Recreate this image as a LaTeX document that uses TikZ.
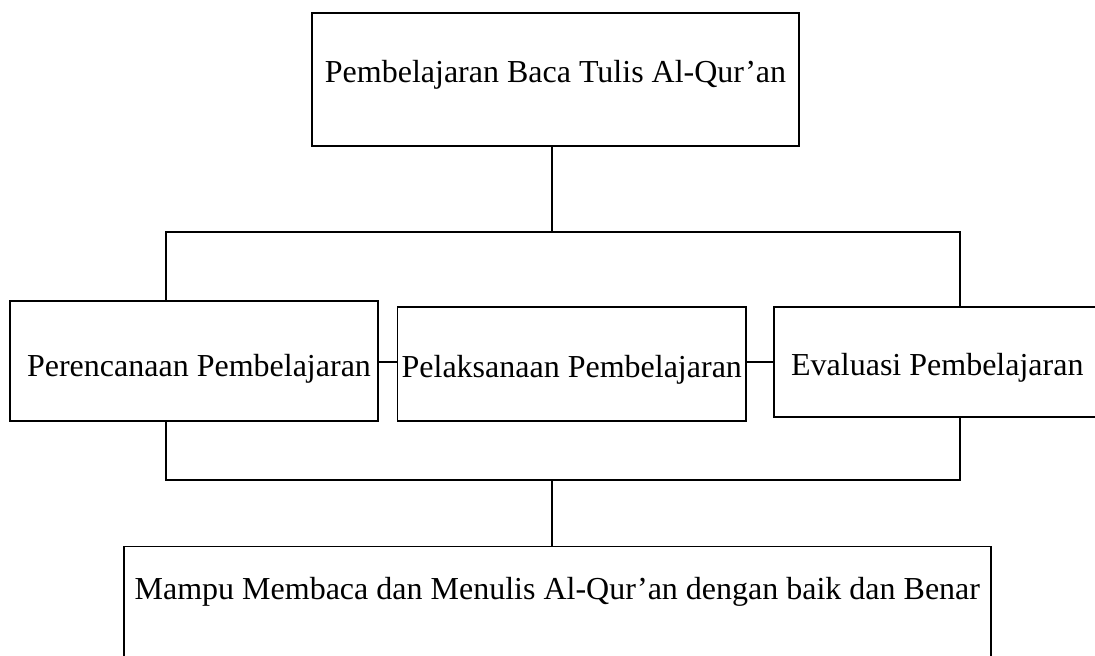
\documentclass[tikz,border=0pt]{standalone}
\usepackage{fontspec}
\setmainfont{Liberation Serif}

\begin{document}
\begin{tikzpicture}[x=0.5pt,y=-0.5pt,line width=0.9pt,
        font=\fontsize{16pt}{19pt}\selectfont,
        box/.style={draw,rectangle,inner sep=0pt}]
            \useasboundingbox (0,0) rectangle (1095,656);
            \node[box,minimum width=243.5pt,minimum height=66.25pt,text height=11.5pt,text depth=8.5pt] (top) at (555.5,79.5) {Pembelajaran Baca Tulis Al-Qur’an};
            \node[box,minimum width=184pt,minimum height=60pt,text height=17pt,text depth=1pt] (plan) at (194,361) {\hspace*{5pt}Perencanaan Pembelajaran};
            \node[box,minimum width=174.25pt,minimum height=57.15pt,text height=15.6pt,text depth=2.4pt] (act) at (571.75,363.85) {Pelaksanaan Pembelajaran};
            \node[box,minimum width=163.7pt,minimum height=55pt,text height=16.3pt,text depth=2pt] (eval) at (937.3,361.7) {Evaluasi Pembelajaran};
            \node[box,anchor=north,minimum width=433.35pt,minimum height=75pt,text height=5pt,text depth=26.5pt] (goal) at (557.35,545.5) {Mampu Membaca dan Menulis Al-Qur’an dengan baik dan Benar};
            \coordinate (upfork) at (552,232);
            \coordinate (upleft) at (166,232);
            \coordinate (upright) at (960,232);
            \coordinate (midrow) at (552,362);
            \coordinate (downfork) at (552,480);
            \coordinate (downleft) at (166,480);
            \coordinate (downright) at (960,480);
            \draw (upfork |- top.south) -- (upfork);
            \draw (upleft |- plan.north) -- (upleft) -- (upright) -- (upright |- eval.north);
            \draw (plan.east |- midrow) -- (act.west |- midrow);
            \draw (act.east |- midrow) -- (eval.west |- midrow);
            \draw (downleft |- plan.south) -- (downleft) -- (downright) -- (downright |- eval.south);
            \draw (downfork) -- (downfork |- goal.north);
        \end{tikzpicture}
\end{document}
